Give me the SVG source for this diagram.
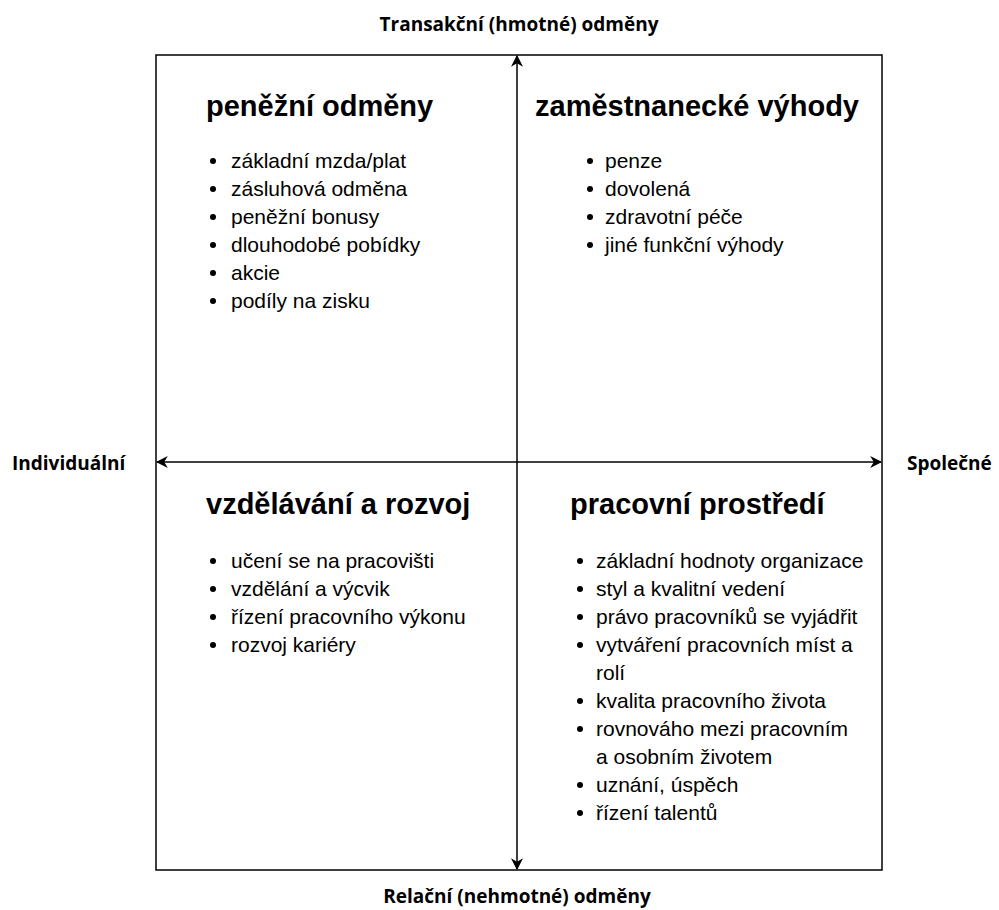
<svg xmlns="http://www.w3.org/2000/svg" width="999" height="910" viewBox="0 0 999 910">
<style>
.ax{font-family:"Open Sans","Liberation Sans",Arial,sans-serif;font-weight:bold;font-size:19px;fill:#000}
.h{font-family:"Liberation Sans",Arial,sans-serif;font-weight:bold;font-size:29px;fill:#000}
.t{font-family:"Liberation Sans",Arial,sans-serif;font-size:21px;fill:#000}
.ln{stroke:#000;stroke-width:1.5;fill:none}
</style>
<defs>
<marker id="arr" viewBox="0 0 10 10" refX="9" refY="5" markerWidth="12" markerHeight="12" markerUnits="userSpaceOnUse" orient="auto-start-reverse">
<path d="M0,0 L10,5 L0,10 L3,5 Z" fill="#000"/>
</marker>
</defs>
<rect width="999" height="910" fill="#fff"/>
<g id="frame"><rect x="156" y="55" width="726" height="815" fill="none" stroke="#000" stroke-width="1.5"/></g>
<g id="connectors">
<line class="ln" x1="517" y1="56" x2="517" y2="869" marker-start="url(#arr)" marker-end="url(#arr)"/>
<line class="ln" x1="157" y1="462" x2="881" y2="462" marker-start="url(#arr)" marker-end="url(#arr)"/>
</g>
<g id="axis-labels">
<text class="ax" x="519" y="31" text-anchor="middle">Transakční (hmotné) odměny</text>
<text class="ax" x="517" y="903" text-anchor="middle">Relační (nehmotné) odměny</text>
<text class="ax" x="12" y="470">Individuální</text>
<text class="ax" x="907" y="470">Společné</text>
</g>
<g id="q1">
<text class="h" x="206" y="116">peněžní odměny</text>
<circle cx="213" cy="161" r="3"/><text class="t" x="231" y="168">základní mzda/plat</text>
<circle cx="213" cy="189" r="3"/><text class="t" x="231" y="196">zásluhová odměna</text>
<circle cx="213" cy="217" r="3"/><text class="t" x="231" y="224">peněžní bonusy</text>
<circle cx="213" cy="245" r="3"/><text class="t" x="231" y="252">dlouhodobé pobídky</text>
<circle cx="213" cy="273" r="3"/><text class="t" x="231" y="280">akcie</text>
<circle cx="213" cy="301" r="3"/><text class="t" x="231" y="308">podíly na zisku</text>
</g>
<g id="q2">
<text class="h" x="535" y="116">zaměstnanecké výhody</text>
<circle cx="590" cy="161" r="3"/><text class="t" x="605" y="168">penze</text>
<circle cx="590" cy="189" r="3"/><text class="t" x="605" y="196">dovolená</text>
<circle cx="590" cy="217" r="3"/><text class="t" x="605" y="224">zdravotní péče</text>
<circle cx="590" cy="245" r="3"/><text class="t" x="605" y="252">jiné funkční výhody</text>
</g>
<g id="q3">
<text class="h" x="206" y="514">vzdělávání a rozvoj</text>
<circle cx="213" cy="561" r="3"/><text class="t" x="231" y="568">učení se na pracovišti</text>
<circle cx="213" cy="589" r="3"/><text class="t" x="231" y="596">vzdělání a výcvik</text>
<circle cx="213" cy="617" r="3"/><text class="t" x="231" y="624">řízení pracovního výkonu</text>
<circle cx="213" cy="645" r="3"/><text class="t" x="231" y="652">rozvoj kariéry</text>
</g>
<g id="q4">
<text class="h" x="570" y="514">pracovní prostředí</text>
<circle cx="580" cy="561" r="3"/><text class="t" x="596" y="568">základní hodnoty organizace</text>
<circle cx="580" cy="589" r="3"/><text class="t" x="596" y="596">styl a kvalitní vedení</text>
<circle cx="580" cy="617" r="3"/><text class="t" x="596" y="624">právo pracovníků se vyjádřit</text>
<circle cx="580" cy="645" r="3"/><text class="t" x="596" y="652">vytváření pracovních míst a</text>
<text class="t" x="596" y="680">rolí</text>
<circle cx="580" cy="701" r="3"/><text class="t" x="596" y="708">kvalita pracovního života</text>
<circle cx="580" cy="729" r="3"/><text class="t" x="596" y="736">rovnováho mezi pracovním</text>
<text class="t" x="596" y="764">a osobním životem</text>
<circle cx="580" cy="785" r="3"/><text class="t" x="596" y="792">uznání, úspěch</text>
<circle cx="580" cy="813" r="3"/><text class="t" x="596" y="820">řízení talentů</text>
</g>
</svg>
